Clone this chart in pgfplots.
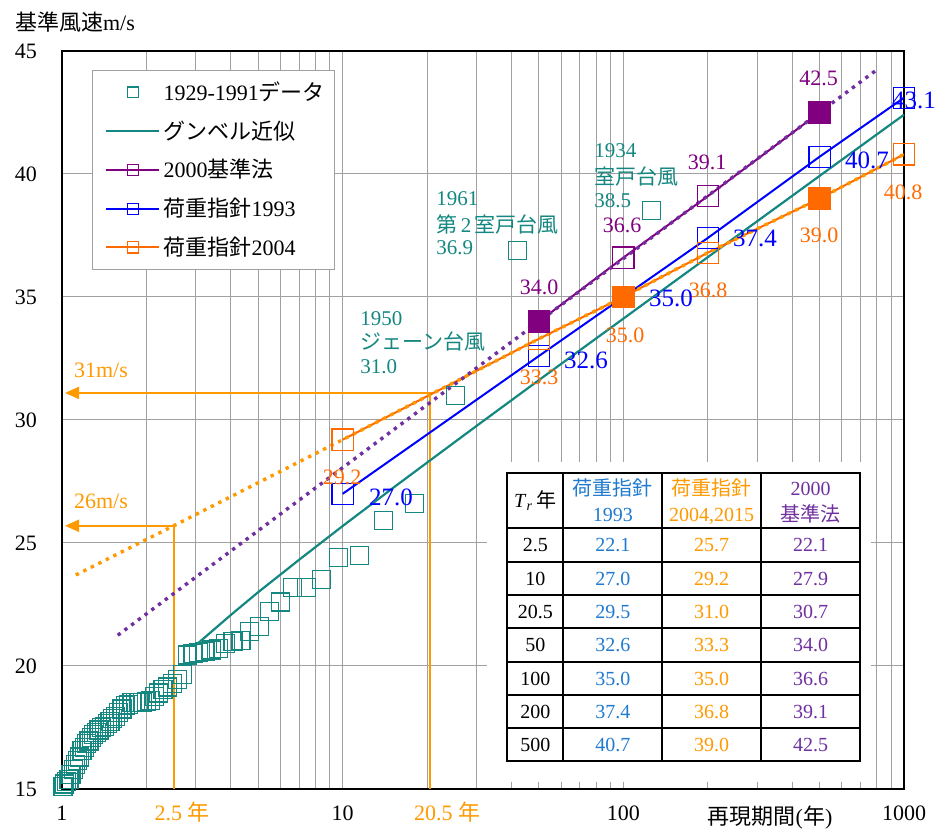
\documentclass[border=0pt]{standalone}
\usepackage{fontspec}
\setmainfont{Liberation Serif}
\newfontfamily\jp{Noto Sans CJK JP}
\usepackage{pgfplots}
\pgfplotsset{compat=1.18}
\usetikzlibrary{arrows.meta}
\definecolor{dteal}{RGB}{20,135,128}
\definecolor{mpurple}{HTML}{800080}
\definecolor{dpurple}{HTML}{7030A0}
\definecolor{mblue}{HTML}{0000FF}
\definecolor{orsolid}{HTML}{FF6A00}
\definecolor{ordot}{HTML}{FF9900}
\definecolor{tblue}{HTML}{1F7AD0}
\definecolor{gridc}{HTML}{A0A0A0}
\newcommand{\fs}[2]{\fontsize{#1pt}{#2pt}\selectfont}
\pgfplotsset{markonlylegend/.style={legend image code/.code={\path (0pt,0pt); \draw[##1] plot coordinates {(16.75pt,0pt)};}}}
\begin{document}
\begin{tikzpicture}
\useasboundingbox (-31pt,-20.5pt) rectangle (438pt,394.5pt);
\begin{axis}[
  at={(0pt,0pt)}, anchor=south west,
  scale only axis, width=421pt, height=369pt,
  xmode=log, xmin=1, xmax=1000, ymin=15, ymax=45,
  xtick={1,10,100,1000}, xticklabels={1,10,100,1000},
  minor xtick={2,3,4,5,6,7,8,9,20,30,40,50,60,70,80,90,200,300,400,500,600,700,800,900},
  ytick={15,20,25,30,35,40,45}, yticklabels={15,20,25,30,35,40,45},
  xmajorgrids, xminorgrids, ymajorgrids,
  grid style={gridc, line width=0.5pt},
  minor grid style={gridc, line width=0.5pt},
  major grid style={gridc, line width=0.5pt},
  major tick length=3.25pt, minor tick length=3.25pt,
  tick style={gridc, line width=0.5pt},
  axis line style={line width=1.3pt, black},
  tick label style={font=\fs{11}{13}},
  yticklabel style={xshift=-9pt},
  xticklabel style={yshift=-5pt},
  clip=false,
  legend cell align=left,
  legend image code/.code={\path (0pt,0pt); \draw[mark repeat=2,mark phase=2,#1] plot coordinates {(3.5pt,0pt) (16.75pt,0pt) (30pt,0pt)};},
  legend style={at={(rel axis cs:0.0356,0.974)}, anchor=north west, draw=gridc, fill=white,
    font=\fs{11}{13}, row sep=5.6pt, inner xsep=3pt, inner ysep=4pt,
    nodes={inner sep=1.5pt}},
]
% legend images
\addlegendimage{only marks, mark=square, color=dteal, mark size=2.7pt, mark options={line width=0.6pt}, markonlylegend}
\addlegendentry{1929-1991{\jp データ}}
\addlegendimage{color=dteal, line width=1.1pt, no marks}
\addlegendentry{{\jp グンベル近似}}
\addlegendimage{color=mpurple, line width=1pt, mark=square, mark size=2.8pt, mark options={line width=0.6pt}}
\addlegendentry{2000{\jp 基準法}}
\addlegendimage{color=mblue, line width=1pt, mark=square, mark size=2.8pt, mark options={line width=0.6pt}}
\addlegendentry{{\jp 荷重指針}1993}
\addlegendimage{color=orsolid, line width=1pt, mark=square, mark size=2.8pt, mark options={line width=0.6pt}}
\addlegendentry{{\jp 荷重指針}2004}

% guide lines
\draw[ordot, line width=1pt] (axis cs:2.5,15) -- (axis cs:2.5,25.7);
\draw[ordot, line width=1pt, -{Triangle[length=7pt,width=6pt]}] (axis cs:2.5,25.7) -- (axis cs:1.025,25.7);
\draw[ordot, line width=1pt] (axis cs:20.5,15) -- (axis cs:20.5,31.1);
\draw[ordot, line width=1pt, -{Triangle[length=7pt,width=6pt]}] (axis cs:20.9,31.1) -- (axis cs:1.025,31.1);

% observed data 1929-1991
\addplot[forget plot, only marks, mark=square, mark size=4.5pt, color=dteal, mark options={line width=0.6pt}] coordinates {
(126,38.5) (42,36.9) (25.2,31.0) (18,26.6) (14,25.9) (11.455,24.5) (9.692,24.4)
(8.4,23.5) (7.412,23.2) (6.632,23.2) (6,22.6) (5.478,22.2) (5.04,21.6) (4.667,21.4)
(4.345,21.05) (4.065,21.0) (3.818,20.9) (3.6,20.7) (3.405,20.65) (3.231,20.6) (3.073,20.55)
(2.93,20.5) (2.8,20.45) (2.681,19.65) (2.571,19.45) (2.471,19.3) (2.377,19.15) (2.291,19.05)
(2.211,18.9) (2.136,18.75) (2.066,18.6) (2,18.55) (1.938,18.5) (1.881,18.5) (1.826,18.5)
(1.775,18.5) (1.726,18.45) (1.68,18.4) (1.636,18.25) (1.595,18.1) (1.556,17.95) (1.518,17.85)
(1.482,17.75) (1.448,17.65) (1.416,17.55) (1.385,17.5) (1.355,17.4) (1.326,17.3) (1.299,17.2)
(1.273,17.1) (1.248,16.95) (1.223,16.85) (1.2,16.7) (1.178,16.55) (1.156,16.3) (1.135,16.15)
(1.115,16.0) (1.096,15.8) (1.077,15.6) (1.059,15.4) (1.041,15.3) (1.024,15.2) (1.008,15.1)
};
% Gumbel fit
\addplot[forget plot, color=dteal, line width=1.1pt, no marks] coordinates {
(3,20.85) (4,22.08) (5,23.0) (7,24.32) (10,25.69) (15,27.21) (20,28.27) (30,29.76)
(50,31.62) (100,34.12) (200,36.62) (500,39.92) (1000,42.41)
};
% 1993
\addplot[forget plot, color=mblue, line width=1pt, mark=square, mark size=5.3pt, mark options={line width=0.6pt}] coordinates {
(10,27.0) (50,32.6) (100,35.0) (200,37.4) (500,40.7) (1000,43.1)
};
% 2004
\addplot[forget plot, color=orsolid, line width=1pt, no marks] coordinates {
(10,29.2) (50,33.3) (100,35.0) (200,36.8) (500,39.0) (1000,40.8)
};
\addplot[forget plot, only marks, color=orsolid, mark=square, mark size=5.3pt, mark options={line width=0.6pt}] coordinates {
(10,29.2) (50,33.3) (200,36.8) (1000,40.8)
};
\addplot[forget plot, only marks, color=orsolid, mark=square*, mark size=5.3pt, mark options={fill=orsolid, line width=0.6pt}] coordinates {
(100,35.0) (500,39.0)
};
% 2000
\addplot[forget plot, color=mpurple, line width=1pt, no marks] coordinates {
(50,34.0) (100,36.6) (200,39.1) (500,42.5)
};
\addplot[forget plot, only marks, color=mpurple, mark=square, mark size=5.3pt, mark options={line width=0.6pt}] coordinates {
(100,36.6) (200,39.1)
};
\addplot[forget plot, only marks, color=mpurple, mark=square*, mark size=5.3pt, mark options={fill=mpurple, line width=0.6pt}] coordinates {
(50,34.0) (500,42.5)
};
% dotted extensions
\addplot[forget plot, color=dpurple, line width=1.7pt, dash pattern=on 1.7pt off 2.5pt, no marks] coordinates {
(1.58,21.25) (814,44.3)
};
\addplot[forget plot, color=ordot, line width=1.7pt, dash pattern=on 1.7pt off 2.5pt, no marks] coordinates {
(1.12,23.7) (2.5,25.7) (10,29.2) (50,33.3) (100,35.0) (200,36.8) (500,39.0) (1000,40.8)
};
\end{axis}

% axis titles
\node[anchor=west, font=\fs{11}{13}] at (-27pt,383.5pt) {{\jp 基準風速}m/s};
\node[anchor=center, font=\fs{11}{13}, text=ordot] at (60pt,-11.5pt) {2.5 {\jp 年}};
\node[anchor=center, font=\fs{11}{13}, text=ordot] at (192.5pt,-11.5pt) {20.5 {\jp 年}};
\node[anchor=center, font=\fs{11}{13}] at (354pt,-14.5pt) {{\jp 再現期間}({\jp 年})};
\node[anchor=center, font=\fs{11}{13}, text=ordot] at (19.5pt,209.5pt) {31m/s};
\node[anchor=center, font=\fs{11}{13}, text=ordot] at (19.5pt,143.7pt) {26m/s};

% typhoon annotations
\begin{scope}[every node/.style={anchor=base west, font=\fs{10.5}{12}, text=dteal, inner sep=0pt}]
\node at (187pt,291.8pt) {1961};
\node at (187pt,278.3pt) {{\jp 第}\,2\,{\jp 室戸台風}};
\node at (187pt,267.3pt) {36.9};
\node at (149pt,231.8pt) {1950};
\node at (149pt,219.8pt) {{\jp ジェーン台風}};
\node at (149pt,207.8pt) {31.0};
\node at (266pt,315.8pt) {1934};
\node at (266pt,302.3pt) {{\jp 室戸台風}};
\node at (266pt,290.8pt) {38.5};
\end{scope}

% value labels
\begin{scope}[every node/.style={anchor=base, font=\fs{11}{13}, inner sep=0pt}]
\node[text=mpurple] at (238.5pt,247.2pt) {34.0};
\node[text=mpurple] at (280pt,278.2pt) {36.6};
\node[text=mpurple] at (322.5pt,309.7pt) {39.1};
\node[text=mpurple] at (378.25pt,351.7pt) {42.5};
\node[text=orsolid] at (140pt,152.2pt) {29.2};
\node[text=orsolid] at (238.5pt,202.2pt) {33.3};
\node[text=orsolid] at (281.5pt,223.2pt) {35.0};
\node[text=orsolid] at (323pt,245.7pt) {36.8};
\node[text=orsolid] at (378.5pt,273.2pt) {39.0};
\node[text=orsolid] at (420.5pt,294.7pt) {40.8};
\end{scope}
\begin{scope}[every node/.style={anchor=base, font=\fs{12.5}{14}, inner sep=0pt, text=mblue}]
\node at (164.5pt,141.7pt) {27.0};
\node at (262pt,210.2pt) {32.6};
\node at (304.5pt,241.2pt) {35.0};
\node at (346.5pt,271.2pt) {37.4};
\node at (402.5pt,310.2pt) {40.7};
\node at (426pt,340.2pt) {43.1};
\end{scope}

% table
\fill[white] (212.5pt,3.25pt) rectangle (404.5pt,163.5pt);
\draw[line width=0.9pt] (222.65pt,14pt) rectangle (399pt,157.85pt);
\foreach \x in {250.65,300.15,349.5} { \draw[line width=0.9pt] (\x pt,14pt) -- (\x pt,157.85pt); }
\foreach \y in {130.35,113.65,97,80.35,63.65,47,30.35} { \draw[line width=0.9pt] (222.65pt,\y pt) -- (399pt,\y pt); }
\begin{scope}[every node/.style={anchor=base, font=\fs{10}{12}, inner sep=0pt}]
\node at (236.65pt,140.5pt) {\textit{T}\textsubscript{\textit{r}}\,{\jp 年}};
\node[text=tblue] at (275.4pt,146.7pt) {{\jp 荷重指針}};
\node[text=tblue] at (275.4pt,133.6pt) {1993};
\node[text=ordot] at (324.8pt,146.7pt) {{\jp 荷重指針}};
\node[text=ordot] at (324.8pt,133.6pt) {2004,2015};
\node[text=dpurple] at (374.25pt,146.7pt) {2000};
\node[text=dpurple] at (374.25pt,133.6pt) {{\jp 基準法}};
\foreach \yb/\a/\b/\c/\d in {118.6/2.5/22.1/25.7/22.1, 101.9/10/27.0/29.2/27.9, 85.3/20.5/29.5/31.0/30.7, 68.6/50/32.6/33.3/34.0, 51.9/100/35.0/35.0/36.6, 35.3/200/37.4/36.8/39.1, 18.8/500/40.7/39.0/42.5} {
  \node at (236.65pt,\yb pt) {\a};
  \node[text=tblue] at (275.4pt,\yb pt) {\b};
  \node[text=ordot] at (324.8pt,\yb pt) {\c};
  \node[text=dpurple] at (374.25pt,\yb pt) {\d};
}
\end{scope}
\end{tikzpicture}
\end{document}
